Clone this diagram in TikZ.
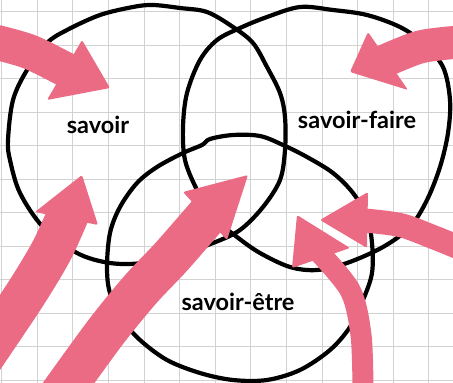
\documentclass[tikz,border=0pt]{standalone}
\usepackage{fontspec}
\setmainfont{Lato}
\usepackage{tikz}
\usetikzlibrary{calc}
\definecolor{Rose}{HTML}{EC6B84}
\definecolor{Grille}{HTML}{D2D2D2}

\begin{document}
\begin{tikzpicture}[x=1pt, y=-1pt,
  gridline/.style={Grille, line width=0.9pt},
  hand/.style={black, line width=4.2pt, line join=round},
  brushline/.style={Rose, line cap=butt},
  arrowhead/.style={fill=Rose, rounded corners=2pt},
  venntext/.style={font=\fontsize{23.5}{25}\selectfont\bfseries}]
  \useasboundingbox (0,0) rectangle (453,383);
  \fill[white] (0,0) rectangle (453,383);
  % squared paper
  \foreach \i in {0,...,12}
    \draw[gridline] ({1.7+35.6*\i},0) -- ++(0,383);
  \foreach \j in {0,...,11}
    \draw[gridline] (0,{11.7+33.5*\j}) -- ++(453,0);

  % the three hand-drawn rings
  \draw[hand] plot[smooth cycle, tension=0.55] coordinates {
    (47,43) (67,30) (100,15) (133,7) (153,5) (180,8) (207,12) (233,27)
    (253,43) (267,67) (280,93) (285,117) (285,150) (280,180) (263,207)
    (240,230) (213,243) (177,255) (143,263) (110,263) (77,253) (43,227)
    (20,193) (10,160) (8,140) (13,100) (27,70)};
  \draw[hand] plot[smooth cycle, tension=0.55] coordinates {
    (240,28) (267,17) (300,7) (333,10) (367,15) (400,27) (423,43) (443,67)
    (450,100) (448,133) (440,167) (427,200) (410,227) (383,247) (347,263)
    (317,270) (290,267) (260,253) (237,237) (213,217) (197,190) (185,160)
    (183,127) (187,93) (200,60) (217,40)};
  \draw[hand] plot[smooth cycle, tension=0.55] coordinates {
    (210,139) (233,135) (260,136) (283,145) (307,157) (333,173) (353,193)
    (367,217) (372,243) (372,273) (363,300) (350,327) (330,350) (300,370)
    (267,380) (233,380) (200,373) (167,360) (140,340) (123,320) (110,293)
    (107,267) (110,233) (120,207) (137,183) (157,167) (183,153) (202,145)};

  % pink arrows
  \draw[brushline, line width=35pt] plot[smooth] coordinates {(-5,42) (30,52) (70,72)};
  \fill[arrowhead] (110,88) -- (82,40) -- (47,100) -- cycle;
  \draw[brushline, line width=33pt] plot[smooth] coordinates {(460,42) (420,47) (380,63)};
  \fill[arrowhead] (350,72) -- (368,32) -- (408,90) -- cycle;
  \draw[brushline, line width=42pt] plot[smooth] coordinates {(-20,362) (25,295) (52,250) (70,210)};
  \fill[arrowhead] (82,175) -- (35,212) -- (98,225) -- cycle;
  \draw[brushline, line width=42pt] plot[smooth] coordinates {(60,395) (105,333) (140,290) (172,256) (212,210)};
  \fill[arrowhead] (248,175) -- (183,192) -- (227,240) -- cycle;
  \draw[brushline, line width=21pt] plot[smooth] coordinates {(363,390) (361,335) (350,290) (315,248)};
  \fill[arrowhead] (297,215) -- (292,268) -- (350,248) -- cycle;
  \draw[brushline, line width=24pt] plot[smooth] coordinates {(360,220) (400,225) (433,237) (465,250)};
  \fill[arrowhead] (320,220) -- (368,192) -- (367,248) -- cycle;

  % labels
  \node[venntext] (savoir) at (98,125) {savoir};
  \node[venntext] (faire) at (357,120) {savoir-faire};
  \node[venntext] (etre) at (238,302) {savoir-être};
\end{tikzpicture}
\end{document}
